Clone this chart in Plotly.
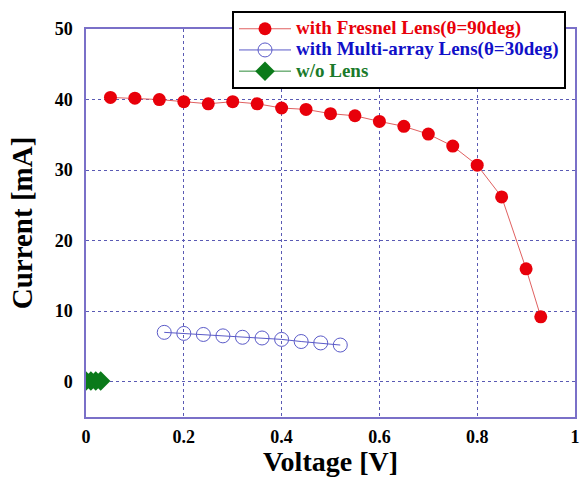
import plotly.graph_objects as go

fresnel_v = [0.05, 0.10, 0.15, 0.20, 0.25, 0.30, 0.35, 0.40, 0.45, 0.50, 0.55, 0.60, 0.65, 0.70, 0.75, 0.80, 0.85, 0.90, 0.93]
fresnel_i = [40.3, 40.2, 40.0, 39.7, 39.4, 39.7, 39.4, 38.8, 38.6, 38.0, 37.7, 36.9, 36.2, 35.1, 33.4, 30.7, 26.2, 16.0, 9.2]

multi_v = [0.16, 0.20, 0.24, 0.28, 0.32, 0.36, 0.40, 0.44, 0.48, 0.52]
multi_i = [7.0, 6.85, 6.7, 6.5, 6.3, 6.2, 6.0, 5.7, 5.5, 5.2]

nolens_v = [0.0, 0.01, 0.02, 0.03]
nolens_i = [0.1, 0.1, 0.1, 0.1]

series_names = ["with Fresnel Lens(θ=90deg)", "with Multi-array Lens(θ=30deg)", "w/o Lens"]
text_colors = ["#e8000a", "#1010c8", "#1a7a2a"]

serif = "Liberation Serif, Times New Roman, serif"
grid_col = "#5a5ab4"
axis_col = "#7a70c8"


def legend_label(name, color):
    return f"<span style='color:{color};font-size:19px'>{name}</span>"


fig = go.Figure()
fig.add_trace(go.Scatter(
    x=fresnel_v, y=fresnel_i, mode="lines+markers",
    name=legend_label(series_names[0], text_colors[0]),
    line=dict(color="#e06060", width=1),
    marker=dict(symbol="circle", size=13, color="#e8000a"),
))
fig.add_trace(go.Scatter(
    x=multi_v, y=multi_i, mode="lines+markers",
    name=legend_label(series_names[1], text_colors[1]),
    line=dict(color="#5a5ac8", width=1),
    marker=dict(symbol="circle-open", size=14, color="#5a5ac8", line=dict(width=1)),
))
fig.add_trace(go.Scatter(
    x=nolens_v, y=nolens_i, mode="lines+markers",
    name=legend_label(series_names[2], text_colors[2]),
    line=dict(color="#2e8b3a", width=1),
    marker=dict(symbol="diamond", size=15, color="#0b7a1a"),
))

fig.update_layout(
    width=581, height=477,
    margin=dict(l=86, r=6, t=29, b=60, autoexpand=False),
    paper_bgcolor="white", plot_bgcolor="white",
    font=dict(family=serif, color="black"),
    legend=dict(
        x=0.2986, y=1.046, xanchor="left", yanchor="top",
        bgcolor="white", bordercolor="black", borderwidth=2,
        font=dict(family=serif, size=14, weight="bold"),
        tracegroupgap=0, itemwidth=52,
    ),
    xaxis=dict(
        range=[0, 1], dtick=0.2, showgrid=True, gridcolor=grid_col, griddash="dot",
        gridwidth=1, zeroline=False, showline=True, linecolor=axis_col, linewidth=1.5,
        mirror=True, ticks="", ticklabelstandoff=3, automargin=False,
        tickfont=dict(family=serif, size=18, weight="bold"),
        title=dict(text="Voltage [V]", font=dict(family=serif, size=28, weight="bold"), standoff=6),
    ),
    yaxis=dict(
        range=[-5, 50], tickvals=[0, 10, 20, 30, 40, 50], showgrid=True, gridcolor=grid_col,
        griddash="dot", gridwidth=1, zeroline=False, showline=True, linecolor=axis_col,
        linewidth=1.5, mirror=True, ticks="", ticklabelstandoff=8, automargin=False,
        tickfont=dict(family=serif, size=18, weight="bold"),
        title=dict(text="Current [mA]", font=dict(family=serif, size=29, weight="bold"), standoff=14),
    ),
)

fig.write_html(
    "out.html",
    config={"displayModeBar": False},
    post_script="document.body.style.margin='0';document.body.style.overflow='hidden';",
)
